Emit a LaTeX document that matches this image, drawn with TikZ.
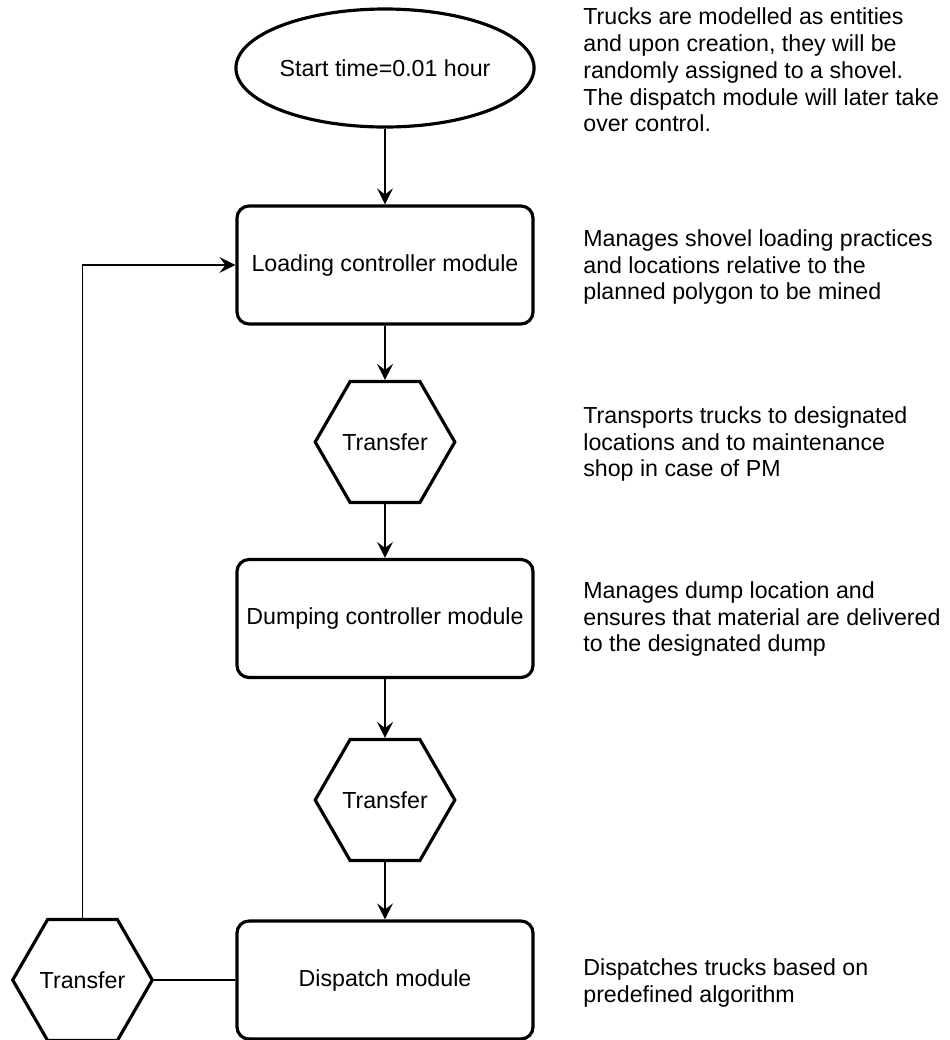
\documentclass[tikz,border=0pt]{standalone}
\usepackage{fontspec}
\setmainfont{Liberation Sans}
\usetikzlibrary{arrows.meta,shapes.geometric}
\tikzset{
  kezd/.style={draw,line width=1.8pt,ellipse,minimum width=5.56cm,minimum height=2.36cm,inner sep=0pt},
  modul/.style={draw,line width=1.8pt,rounded corners=0.24cm,minimum width=5.92cm,minimum height=2.36cm,inner sep=0pt,align=center},
  hexa/.style={draw,line width=1.8pt,regular polygon,regular polygon sides=6,minimum size=2.78cm,inner sep=0pt},
  arr/.style={line width=0.9pt,-{Stealth[length=3.2mm,width=3.2mm,inset=1.2mm]}},
  lin/.style={line width=0.9pt},
  note/.style={anchor=west,align=left,inner sep=0pt},
}
\begin{document}
\begin{tikzpicture}[font=\fontsize{13.2}{15.2}\selectfont]
  \useasboundingbox (0,0) rectangle (18.98,-20.8);
  % flow column
  \node[kezd] (start) at (7.70,-1.36) {Start time=0.01 hour};
  \node[modul] (load) at (7.70,-5.30) {Loading controller module};
  \node[hexa] (tr1) at (7.70,-8.84) {Transfer};
  \node[modul] (dump) at (7.70,-12.37) {Dumping controller module};
  \node[hexa] (tr2) at (7.70,-16.00) {Transfer};
  \node[modul] (disp) at (7.70,-19.60) {Dispatch module};
  \node[hexa] (tr3) at (1.65,-19.60) {Transfer};
  \draw[arr] (start) -- (load);
  \draw[arr] (load) -- (tr1);
  \draw[arr] (tr1) -- (dump);
  \draw[arr] (dump) -- (tr2);
  \draw[arr] (tr2) -- (disp);
  \draw[lin] (tr3) -- (disp);
  \draw[arr] (tr3.north) |- (load.west);
  % notes on the right
  \node[note] (n1) at (11.66,-1.40) {Trucks are modelled as entities\\and upon creation, they will be\\randomly assigned to a shovel.\\The dispatch module will later take\\over control.};
  \node[note] (n2) at (11.66,-5.34) {Manages shovel loading practices\\and locations relative to the\\planned polygon to be mined};
  \node[note] (n3) at (11.66,-8.88) {Transports trucks to designated\\locations and to maintenance\\shop in case of PM};
  \node[note] (n4) at (11.66,-12.38) {Manages dump location and\\ensures that material are delivered\\to the designated dump};
  \node[note] (n5) at (11.66,-19.66) {Dispatches trucks based on\\predefined algorithm};
\end{tikzpicture}
\end{document}
